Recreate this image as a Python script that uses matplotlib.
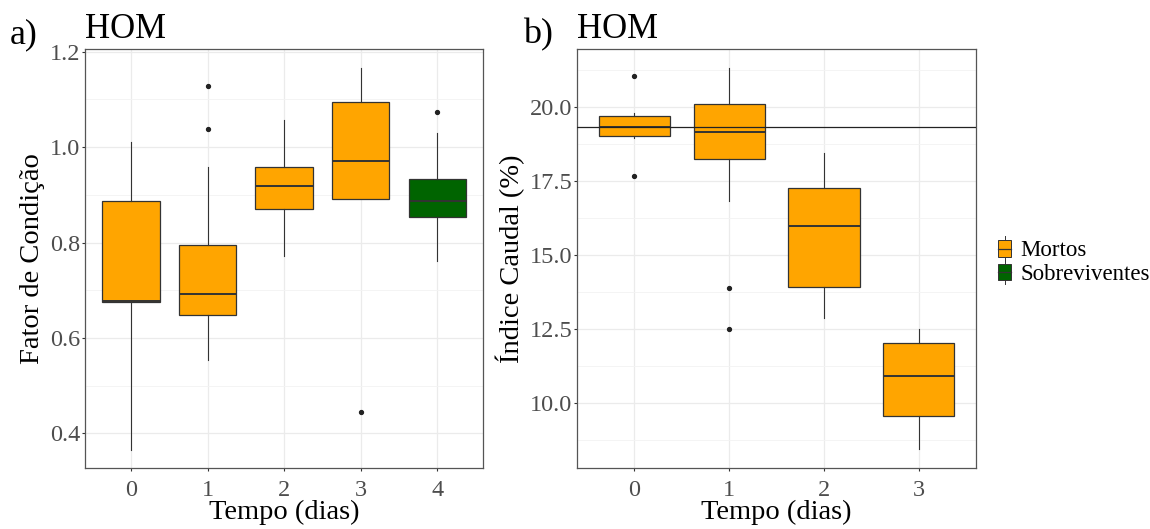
import matplotlib
matplotlib.use("Agg")
import matplotlib.pyplot as plt
from matplotlib.patches import Patch, Rectangle
from matplotlib.lines import Line2D
from matplotlib.legend_handler import HandlerBase

plt.rcParams['font.family'] = ['Liberation Serif', 'DejaVu Serif']

# Panel a: Fator de Condição
days_a = [0, 1, 2, 3, 4]
med_a = [0.677, 0.693, 0.919, 0.970, 0.887]
q1_a = [0.676, 0.649, 0.870, 0.891, 0.854]
q3_a = [0.887, 0.794, 0.959, 1.094, 0.933]
lo_a = [0.366, 0.554, 0.772, 0.891, 0.762]
hi_a = [1.011, 0.959, 1.057, 1.165, 1.029]
out_a = [[], [1.128, 1.039], [], [0.444], [1.073]]
group_a = ['Mortos', 'Mortos', 'Mortos', 'Mortos', 'Sobreviventes']

# Panel b: Índice Caudal (%)
days_b = [0, 1, 2, 3]
med_b = [19.32, 19.15, 15.97, 10.91]
q1_b = [19.01, 18.22, 13.92, 9.56]
q3_b = [19.69, 20.08, 17.24, 12.03]
lo_b = [18.93, 16.81, 12.87, 8.43]
hi_b = [19.80, 21.30, 18.45, 12.49]
out_b = [[21.04, 17.67], [13.87, 12.49], [], []]
group_b = ['Mortos', 'Mortos', 'Mortos', 'Mortos']
ref_line_b = 19.30

colors = {'Mortos': '#FFA500', 'Sobreviventes': '#006400'}
edge = '#333333'
W, H = 1150, 529


def px_axes(fig, left, top, right, bottom):
    return fig.add_axes([left / W, 1 - bottom / H, (right - left) / W, (bottom - top) / H])


def draw_panel(ax, days, med, q1, q3, lo, hi, out, groups):
    stats = []
    for i in range(len(days)):
        stats.append(dict(med=med[i], q1=q1[i], q3=q3[i], whislo=lo[i], whishi=hi[i],
                          fliers=out[i]))
    bp = ax.bxp(stats, positions=days, widths=0.75, patch_artist=True, showcaps=False,
                boxprops=dict(edgecolor=edge, linewidth=0.9),
                medianprops=dict(color=edge, linewidth=1.4),
                whiskerprops=dict(color=edge, linewidth=0.8),
                flierprops=dict(marker='o', markersize=2.8, markerfacecolor='#222222',
                                markeredgecolor='#222222'),
                zorder=3)
    for box, g in zip(bp['boxes'], groups):
        box.set_facecolor(colors[g])
    ax.set_xlim(-0.6, len(days) - 0.4)
    ax.set_xticks(days)
    ax.set_xticklabels([str(d) for d in days])
    ax.grid(True, which='major', color='#EBEBEB', linewidth=0.9, zorder=0)
    ax.grid(True, which='minor', axis='y', color='#F3F3F3', linewidth=0.6, zorder=0)
    ax.set_axisbelow(True)
    for s in ax.spines.values():
        s.set_color('#555555')
        s.set_linewidth(0.9)
    ax.tick_params(axis='both', labelsize=17.5, labelcolor='#4D4D4D', color='#333333',
                   length=2.5, width=0.8)
    ax.tick_params(axis='x', pad=6)
    ax.tick_params(axis='y', pad=1)
    ax.tick_params(axis='y', which='minor', length=0)


fig = plt.figure(figsize=(W / 100, H / 100), dpi=100)

ax1 = px_axes(fig, 85, 49.3, 483.3, 468.3)
draw_panel(ax1, days_a, med_a, q1_a, q3_a, lo_a, hi_a, out_a, group_a)
ax1.set_ylim(0.327, 1.205)
ax1.set_yticks([0.4, 0.6, 0.8, 1.0, 1.2])
ax1.set_yticklabels(['0.4', '0.6', '0.8', '1.0', '1.2'])
ax1.set_yticks([0.5, 0.7, 0.9, 1.1], minor=True)
ax1.set_ylabel('Fator de Condição', fontsize=20.5, labelpad=3)
ax1.set_xlabel('Tempo (dias)', fontsize=20.5, labelpad=-1)

ax2 = px_axes(fig, 577.3, 49.3, 975.7, 468.3)
draw_panel(ax2, days_b, med_b, q1_b, q3_b, lo_b, hi_b, out_b, group_b)
ax2.axhline(ref_line_b, color='#222222', linewidth=0.9, zorder=4)
ax2.set_ylim(7.78, 21.94)
ax2.set_yticks([10.0, 12.5, 15.0, 17.5, 20.0])
ax2.set_yticklabels(['10.0', '12.5', '15.0', '17.5', '20.0'])
ax2.set_yticks([8.75, 11.25, 13.75, 16.25, 18.75, 21.25], minor=True)
ax2.set_ylabel('Índice Caudal (%)', fontsize=20.5, labelpad=3)
ax2.set_xlabel('Tempo (dias)', fontsize=20.5, labelpad=-1)

fig.text(10 / W, 1 - 43 / H, 'a)', fontsize=26, ha='left', va='baseline')
fig.text(85 / W, 1 - 38 / H, 'HOM', fontsize=25, ha='left', va='baseline')
fig.text(523 / W, 1 - 43 / H, 'b)', fontsize=26, ha='left', va='baseline')
fig.text(577 / W, 1 - 38 / H, 'HOM', fontsize=25, ha='left', va='baseline')


class BoxKey(HandlerBase):
    def create_artists(self, legend, orig_handle, xdescent, ydescent, width, height,
                       fontsize, trans):
        cx = width / 2 - xdescent
        bw = width * 0.75
        bh = height * 0.85
        y0 = -ydescent + (height - bh) / 2
        v1 = Line2D([cx, cx], [-ydescent - height * 0.15, y0], color=edge, lw=0.7,
                    transform=trans)
        v2 = Line2D([cx, cx], [y0 + bh, -ydescent + height * 1.15], color=edge, lw=0.7,
                    transform=trans)
        r = Rectangle((cx - bw / 2, y0), bw, bh, facecolor=orig_handle.get_facecolor(),
                      edgecolor=edge, lw=0.7, transform=trans)
        m = Line2D([cx - bw / 2, cx + bw / 2], [y0 + bh / 2] * 2, color=edge, lw=0.9,
                   transform=trans)
        return [v1, v2, r, m]


handles = [Patch(facecolor=colors['Mortos'], label='Mortos'),
           Patch(facecolor=colors['Sobreviventes'], label='Sobreviventes')]
fig.legend(handles=handles, loc='center left', bbox_to_anchor=(996 / W, 1 - 262 / H),
           frameon=False, fontsize=16.5, handler_map={Patch: BoxKey()},
           handlelength=0.75, handleheight=0.9, handletextpad=0.3, labelspacing=0.05,
           borderpad=0, borderaxespad=0)

fig.savefig('out.png', dpi=100)
